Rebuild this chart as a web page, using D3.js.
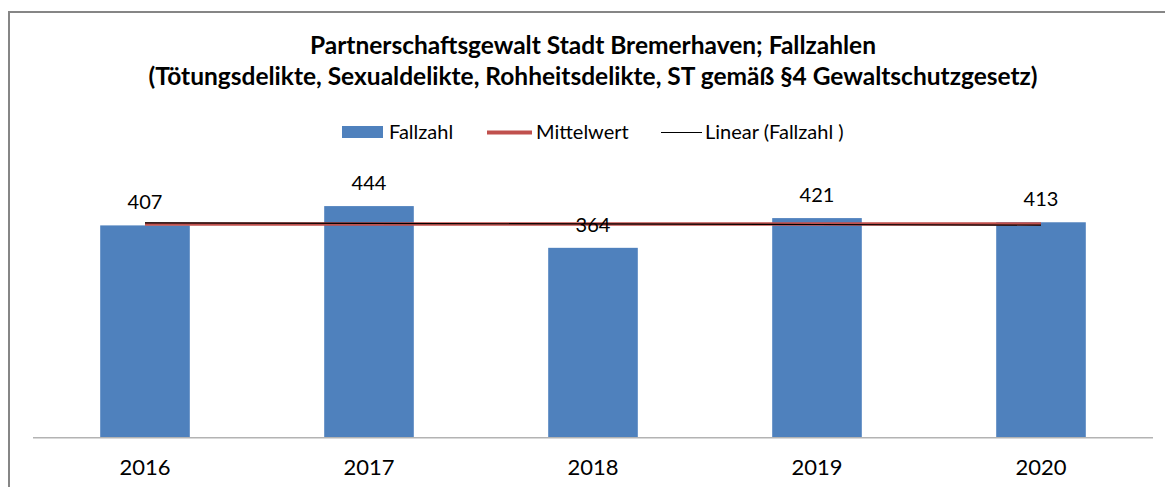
<!DOCTYPE html>
<html><head><meta charset="utf-8">
<script src="https://cdn.jsdelivr.net/npm/d3@7"></script>
<style>body{margin:0;background:#fff}svg{display:block}text{font-family:Lato,"Open Sans",sans-serif;fill:#000}</style>
</head><body>
<script>
const years = ["2016","2017","2018","2019","2020"];
const fallzahl = [407, 444, 364, 421, 413];
const titleLines = ["Partnerschaftsgewalt Stadt Bremerhaven; Fallzahlen",
  "(Tötungsdelikte, Sexualdelikte, Rohheitsdelikte, ST gemäß §4 Gewaltschutzgesetz)"];
const legendLabels = ["Fallzahl", "Mittelwert", "Linear (Fallzahl )"];

const W = 1165, H = 487;
const svg = d3.select("body").append("svg").attr("width", W).attr("height", H);
svg.append("rect").attr("width", W).attr("height", H).attr("fill", "#fff");
// frame
svg.append("path").attr("d", `M9,${H} L9,12 L${W},12`).attr("fill","none").attr("stroke","#868686").attr("stroke-width",2);

const x = d3.scaleBand().domain(years).range([33, 1153]).paddingInner(0.6).paddingOuter(0.3);
const y = d3.scaleLinear().domain([0, 800]).range([437.7, 437.7 - 417.3]);

const mean = d3.mean(fallzahl);
const xs = fallzahl.map((d,i)=>i+1);
const mx = d3.mean(xs);
const slope = d3.sum(xs.map((xv,i)=>(xv-mx)*(fallzahl[i]-mean))) / d3.sum(xs.map(xv=>(xv-mx)**2));
const trend = xs.map(xv => mean + slope*(xv-mx));

// bars
svg.selectAll("rect.bar").data(fallzahl).join("rect").attr("class","bar")
  .attr("x",(d,i)=>x(years[i])).attr("width",x.bandwidth())
  .attr("y",d=>y(d)).attr("height",d=>y(0)-y(d)).attr("fill","#4F81BD");

// axis line
svg.append("line").attr("x1",33).attr("x2",1153).attr("y1",y(0)).attr("y2",y(0)).attr("stroke","#B3B3B3").attr("stroke-width",1.5);
// axis labels
svg.selectAll("text.xl").data(years).join("text").attr("class","xl")
  .attr("x",d=>x(d)+x.bandwidth()/2).attr("y",475).attr("text-anchor","middle")
  .style("font-size","22px").text(d=>d);

// mean line
const cx = (i)=>x(years[i])+x.bandwidth()/2;
svg.append("line").attr("x1",cx(0)).attr("x2",cx(4)).attr("y1",y(mean)).attr("y2",y(mean))
  .attr("stroke","#C0504D").attr("stroke-width",3.5);
// trend line
svg.append("path").attr("d", d3.line().x((d,i)=>cx(i)).y(d=>y(d))(trend))
  .attr("fill","none").attr("stroke","#000").attr("stroke-width",1.2);

// value labels
svg.selectAll("text.vl").data(fallzahl).join("text").attr("class","vl")
  .attr("x",(d,i)=>cx(i)).attr("y",d=>y(d)-16).attr("text-anchor","middle")
  .style("font-size","20px").text(d=>d);

// title
svg.selectAll("text.tt").data(titleLines).join("text").attr("class","tt")
  .attr("x",593).attr("y",(d,i)=>54+i*31).attr("text-anchor","middle")
  .style("font-size","24.5px").style("font-weight","bold").text(d=>d);

// legend
const lg = svg.append("g");
lg.append("rect").attr("x",342).attr("y",126).attr("width",41).attr("height",12).attr("fill","#4F81BD");
lg.append("text").attr("x",389).attr("y",139).style("font-size","20px").text(legendLabels[0]);
lg.append("line").attr("x1",487).attr("x2",532).attr("y1",132.5).attr("y2",132.5).attr("stroke","#C0504D").attr("stroke-width",4);
lg.append("text").attr("x",536).attr("y",139).style("font-size","20px").text(legendLabels[1]);
lg.append("line").attr("x1",661).attr("x2",702).attr("y1",132.5).attr("y2",132.5).attr("stroke","#000").attr("stroke-width",1.2);
lg.append("text").attr("x",705).attr("y",139).style("font-size","20px").text(legendLabels[2]);
</script>
</body></html>
